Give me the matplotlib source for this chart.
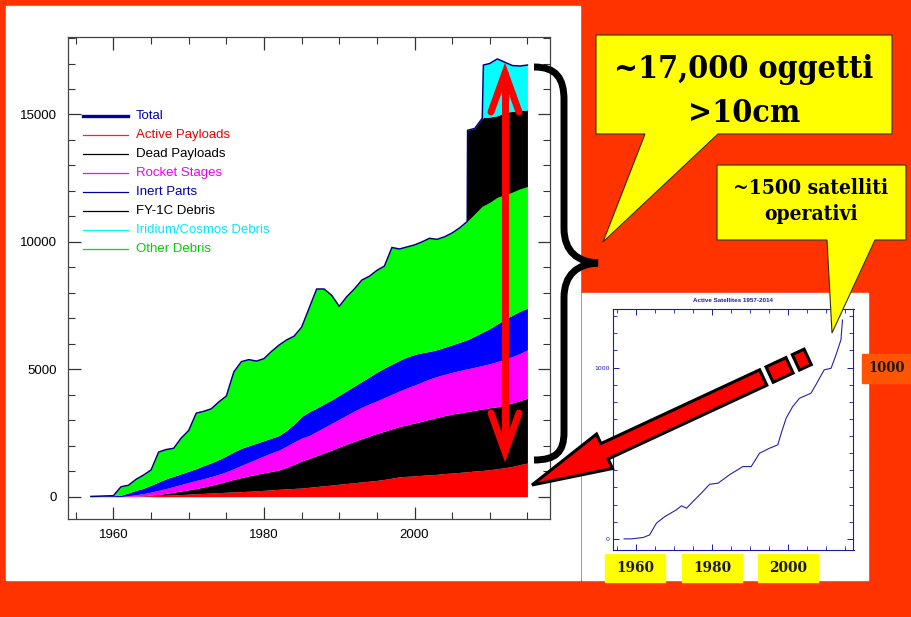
import numpy as np
import matplotlib
matplotlib.use('Agg')
import matplotlib.pyplot as plt
from matplotlib.patches import Polygon, Rectangle, PathPatch
from matplotlib.path import Path
from matplotlib.ticker import MultipleLocator

# ---- catalogued objects (counts per category) ----
years = [1957, 1958, 1959, 1960, 1961, 1962, 1963, 1964, 1965, 1966,
         1967, 1968, 1969, 1970, 1971, 1972, 1973, 1974, 1975, 1976,
         1977, 1978, 1979, 1980, 1981, 1982, 1983, 1984, 1985, 1986,
         1987, 1988, 1989, 1990, 1991, 1992, 1993, 1994, 1995, 1996,
         1997, 1998, 1999, 2000, 2001, 2002, 2003, 2004, 2005, 2006,
         2007, 2007.05, 2008, 2009, 2009.15, 2010, 2011, 2012, 2013, 2014, 2015]

active_payloads = [0, 0, 0, 0, 5, 10, 20, 30, 40, 50,
                   60, 70, 85, 100, 115, 130, 145, 160, 175, 190,
                   200, 215, 230, 250, 270, 290, 310, 325, 340, 370,
                   400, 430, 460, 490, 520, 550, 580, 610, 640, 680,
                   730, 780, 800, 820, 840, 860, 880, 910, 930, 955,
                   980, 980, 1010, 1030, 1035, 1060, 1100, 1140, 1190, 1260, 1320]
dead_payloads = [0, 0, 0, 0, 0, 5, 5, 10, 20, 40,
                 70, 105, 135, 170, 205, 250, 305, 360, 425, 490,
                 550, 605, 650, 690, 720, 760, 840, 945, 1060, 1130,
                 1210, 1290, 1370, 1460, 1540, 1620, 1700, 1770, 1840, 1890,
                 1930, 1970, 2020, 2070, 2120, 2180, 2230, 2270, 2310, 2335,
                 2360, 2360, 2380, 2410, 2410, 2430, 2430, 2460, 2490, 2510, 2540]
rocket_stages = [0, 0, 0, 0, 0, 25, 55, 80, 120, 160,
                 190, 225, 260, 290, 320, 330, 340, 360, 380, 420,
                 480, 530, 600, 660, 730, 780, 830, 880, 900, 900,
                 950, 1000, 1050, 1090, 1140, 1190, 1230, 1260, 1280, 1320,
                 1360, 1400, 1450, 1490, 1540, 1580, 1610, 1620, 1640, 1660,
                 1680, 1680, 1690, 1710, 1715, 1730, 1770, 1800, 1820, 1850, 1900]
inert_parts = [10, 20, 30, 40, 55, 110, 170, 210, 270, 330,
               380, 400, 420, 440, 460, 510, 540, 580, 620, 660,
               670, 650, 620, 600, 580, 570, 620, 700, 850, 930,
               920, 920, 920, 940, 960, 980, 1010, 1060, 1120, 1160,
               1180, 1200, 1210, 1200, 1150, 1080, 1050, 1060, 1080, 1110,
               1140, 1145, 1220, 1300, 1310, 1380, 1480, 1560, 1620, 1660, 1640]
other_debris = [0, 0, 0, 0, 330, 300, 430, 520, 600, 1170,
                1150, 1100, 1400, 1600, 2180, 2130, 2120, 2260, 2350, 3140,
                3400, 3380, 3220, 3220, 3400, 3550, 3550, 3450, 3500, 4070,
                4670, 4510, 4100, 3490, 3690, 3810, 3980, 3950, 4000, 4000,
                4580, 4370, 4320, 4300, 4350, 4440, 4330, 4340, 4390, 4490,
                4640, 4655, 4800, 4950, 4950, 4950, 4970, 4890, 4830, 4800, 4770]
fy1c_debris = [0] * 51 + [3560, 3350, 3450, 3460, 3350, 3200, 3230, 3170, 3070, 3010]
iridium_cosmos = [0] * 54 + [2060, 2100, 2230, 1970, 1800, 1750, 1760]

legend_labels = ['Total', 'Active Payloads', 'Dead Payloads', 'Rocket Stages',
                 'Inert Parts', 'FY-1C Debris', 'Iridium/Cosmos Debris', 'Other Debris']

# ---- active satellites (inset) ----
sat_years = [1957, 1959, 1962, 1963.7, 1965.5, 1967.7, 1970.7, 1972.1, 1973.4, 1975.1,
             1977.3, 1979.5, 1981.7, 1984.7, 1988.2, 1990.4, 1992.6, 1995.2, 1997.4, 1998.3,
             1999.6, 2001.3, 2003.1, 2006.1, 2007.4, 2009.6, 2011.4, 2012.7, 2014.0, 2014.4]
sat_counts = [0, 0, 8, 23, 92, 130, 169, 193, 179, 218,
              267, 319, 325, 374, 422, 422, 500, 529, 549, 617,
              705, 772, 821, 850, 899, 987, 996, 1074, 1162, 1278]

W, H = 912, 617
ORANGE = '#FF3300'
NAVY = '#1a1aa6'
SERIF = dict(family='DejaVu Serif', weight='bold', stretch='condensed')

fig = plt.figure(figsize=(W / 100, H / 100), dpi=100)


def frac(x0, y0, x1, y1):
    # pixel box (y from top) -> figure fraction rect
    return [x0 / W, 1 - y1 / H, (x1 - x0) / W, (y1 - y0) / H]


# background slide
bg = fig.add_axes([0, 0, 1, 1], zorder=0)
bg.set_xlim(0, W)
bg.set_ylim(H, 0)
bg.axis('off')
bg.add_patch(Rectangle((0, 0), W, H, color=ORANGE))
bg.add_patch(Rectangle((6, 6), 574, 574, color='white'))
bg.add_patch(Rectangle((582, 293), 286, 287, color='white'))

# ---- main stacked chart ----
ax = fig.add_axes(frac(68.3, 37, 550, 519), zorder=1)
layers = [active_payloads, dead_payloads, rocket_stages, inert_parts,
          other_debris, fy1c_debris, iridium_cosmos]
fills = ['#FF0000', '#000000', '#FF00FF', '#0000FF', '#00FF00', '#000000', '#00FFFF']
base = np.zeros(len(years))
for vals, col in zip(layers, fills):
    top = base + np.array(vals)
    ax.fill_between(years, base, top, color=col, lw=0)
    base = top
ax.plot(years, base, color='#000078', lw=1.1)

ax.set_xlim(1954, 2018)
ax.set_ylim(-875, 18040)
ax.xaxis.set_major_locator(MultipleLocator(20))
ax.xaxis.set_minor_locator(MultipleLocator(5))
ax.yaxis.set_major_locator(MultipleLocator(5000))
ax.yaxis.set_minor_locator(MultipleLocator(1000))
ax.tick_params(which='both', direction='in', top=True, right=True, color='#333333')
ax.tick_params(which='major', length=9, width=0.9)
ax.tick_params(which='minor', length=5, width=0.8)
ax.tick_params(axis='y', pad=8)
ax.tick_params(axis='x', pad=7)
for lab in ax.get_xticklabels() + ax.get_yticklabels():
    lab.set_family('Liberation Sans')
    lab.set_fontsize(9.5)
for sp in ax.spines.values():
    sp.set_color('#444444')
    sp.set_linewidth(0.9)

line_cols = ['#0000A0', '#FF2020', '#000000', '#FF00FF', '#0000A0', '#000000', '#00FFFF', '#00DD00']
text_cols = ['#0000B0', '#EE0000', '#000000', '#EE00EE', '#0000B0', '#000000', '#00E8FF', '#00D000']
for i, lab in enumerate(legend_labels):
    yy = 0.836 - i * 0.0394
    ax.plot([0.0305, 0.124], [yy, yy], transform=ax.transAxes, color=line_cols[i],
            lw=2.4 if i == 0 else 0.9, clip_on=False)
    ax.text(0.1405, yy, lab, transform=ax.transAxes, color=text_cols[i], fontsize=9.5,
            family='Liberation Sans', va='center')

# ---- inset: active satellites ----
ax2 = fig.add_axes(frac(612.7, 309, 853.5, 550), zorder=1)
ax2.plot(sat_years, sat_counts, color='#2222aa', lw=0.8)
ax2.set_xlim(1954, 2017.3)
ax2.set_ylim(-65, 1342)
ax2.xaxis.set_major_locator(MultipleLocator(20))
ax2.xaxis.set_minor_locator(MultipleLocator(5))
ax2.yaxis.set_major_locator(MultipleLocator(1000))
ax2.yaxis.set_minor_locator(MultipleLocator(100))
ax2.tick_params(which='both', direction='in', top=True, right=True, color=NAVY,
                labelbottom=False, labelsize=4.5, labelcolor=NAVY, pad=2)
ax2.tick_params(which='major', length=4, width=0.7)
ax2.tick_params(which='minor', length=3, width=0.6)
for sp in ax2.spines.values():
    sp.set_color(NAVY)
    sp.set_linewidth(0.8)
ax2.set_title('Active Satellites 1957-2014', fontsize=4.5, color=NAVY, pad=5,
              family='Liberation Sans', weight='bold')

# ---- overlay annotations (pixel coordinates) ----
ov = fig.add_axes([0, 0, 1, 1], zorder=10)
ov.set_xlim(0, W)
ov.set_ylim(H, 0)
ov.axis('off')
ov.patch.set_alpha(0)

# curly brace
M, C, L = Path.MOVETO, Path.CURVE4, Path.LINETO
brace = Path([(534, 67), (556, 67), (564, 78), (564, 100), (564, 228),
              (564, 252), (578, 262), (598, 263), (578, 264), (564, 274), (564, 298),
              (564, 432), (564, 452), (556, 460), (534, 460)],
             [M, C, C, C, L, C, C, C, C, C, C, L, C, C, C])
ov.add_patch(PathPatch(brace, fill=False, lw=5, color='black', capstyle='butt'))

# red double arrow
ov.plot([505, 505], [72, 452], color='#FF0000', lw=5, solid_capstyle='butt')
ov.plot([491, 505, 519], [112, 73, 112], color='#FF0000', lw=5,
        solid_capstyle='round', solid_joinstyle='miter')
ov.plot([491, 505, 519], [413, 452, 413], color='#FF0000', lw=5,
        solid_capstyle='round', solid_joinstyle='miter')

# big block arrow with dashed tail
tip = np.array([532.0, 485.0])
u = np.array([765 - 532, 376.7 - 485])
u = u / np.hypot(*u)
n = np.array([-u[1], u[0]])


def pt(s, w):
    return tuple(tip + s * u + w * n)


hw, sw = 19, 8.5
arrow = [pt(0, 0), pt(80, -hw), pt(80, -sw), pt(255, -sw), pt(255, sw), pt(80, sw), pt(80, hw)]
ov.add_patch(Polygon(arrow, closed=True, fc='#FF0000', ec='black', lw=2.2, joinstyle='miter'))
for s0, s1 in [(262, 284), (291, 304)]:
    blk = [pt(s0, -sw), pt(s1, -sw), pt(s1, sw), pt(s0, sw)]
    ov.add_patch(Polygon(blk, closed=True, fc='#FF0000', ec='black', lw=2.2))

# speech bubbles
bub1 = [(596, 35), (892, 35), (892, 134), (718, 134), (603, 242), (645, 134), (596, 134)]
ov.add_patch(Polygon(bub1, closed=True, fc='#FFFF00', ec='#333300', lw=0.8))
ov.text(744, 78, '~17,000 oggetti', ha='center', va='baseline', fontsize=23, color='black', **SERIF)
ov.text(744, 122, '>10cm', ha='center', va='baseline', fontsize=23, color='black', **SERIF)

bub2 = [(717, 165), (906, 165), (906, 240), (875, 240), (832, 333), (827, 240), (717, 240)]
ov.add_patch(Polygon(bub2, closed=True, fc='#FFFF00', ec='#333300', lw=0.8))
ov.text(811, 193.5, '~1500 satelliti', ha='center', va='baseline', fontsize=15, color='black', **SERIF)
ov.text(811, 220, 'operativi', ha='center', va='baseline', fontsize=15, color='black', **SERIF)

# year labels under the inset
for x0, lab in [(605, '1960'), (682, '1980'), (758, '2000')]:
    ov.add_patch(Rectangle((x0, 554), 60, 28, color='#FFFF00'))
    ov.text(x0 + 30, 568, lab, ha='center', va='center', fontsize=11, color='#1a1a1a', **SERIF)

ov.add_patch(Rectangle((862, 354), 50, 29, color='#FF5500'))
ov.text(887, 368.5, '1000', ha='center', va='center', fontsize=10.5, color='#1a1a1a', **SERIF)

fig.savefig('out.png', dpi=100)
